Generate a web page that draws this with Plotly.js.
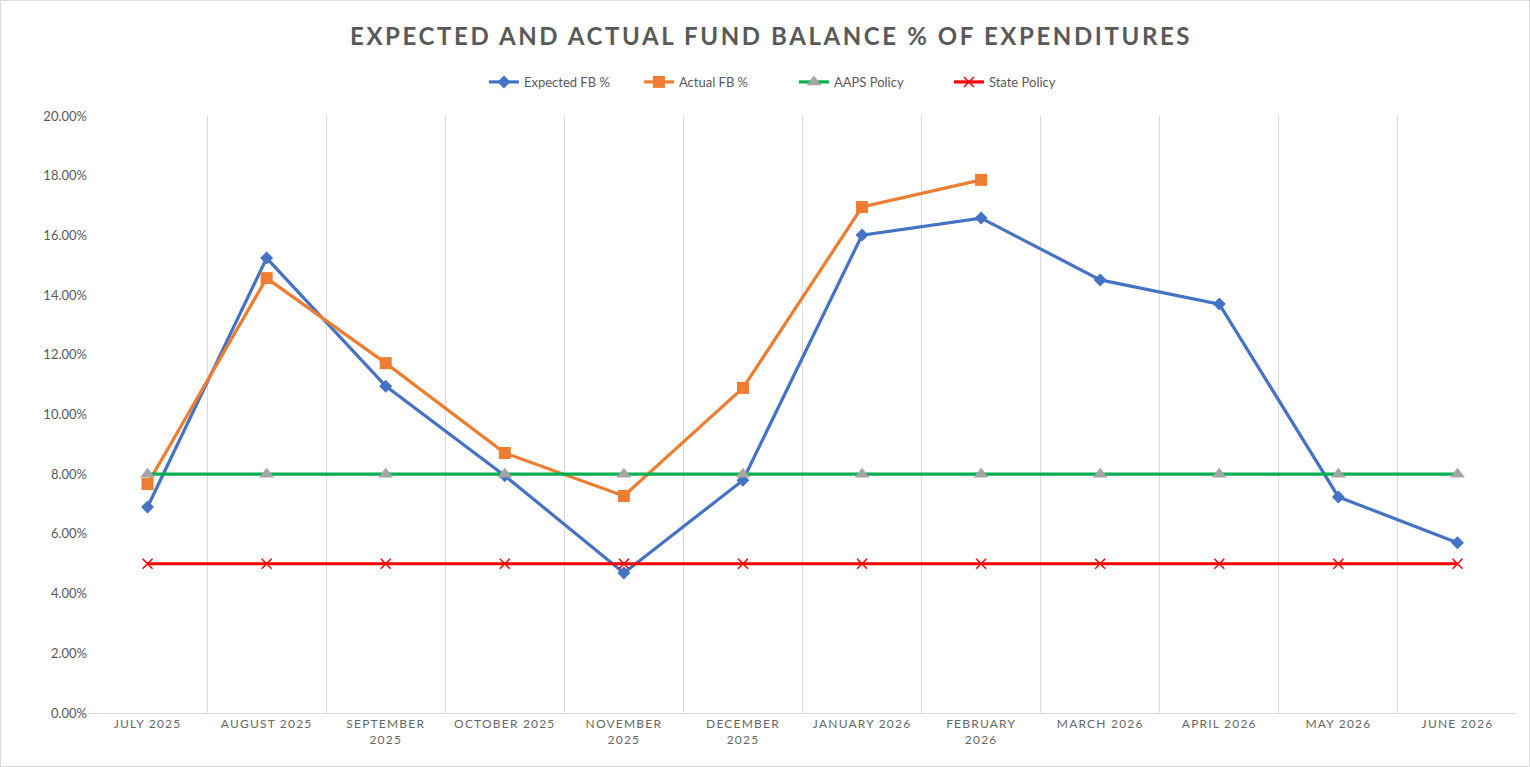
<!DOCTYPE html>
<html>
<head>
<meta charset="utf-8">
<script src="https://cdn.plot.ly/plotly-3.0.1.min.js"></script>
<style>
    body { margin: 0; background: #fff; }
    #chart { width: 1528px; height: 765px; border: 1px solid #d9d9d9; }
    .gtitle { letter-spacing: 2.6px; }
    .xtick text { letter-spacing: 1.2px; }
</style>
</head>
<body>
<div id="chart"></div>
<script>
// months on the x axis
let months = ['JULY 2025', 'AUGUST 2025', 'SEPTEMBER<br>2025', 'OCTOBER 2025', 'NOVEMBER<br>2025',
    'DECEMBER<br>2025', 'JANUARY 2026', 'FEBRUARY<br>2026', 'MARCH 2026', 'APRIL 2026', 'MAY 2026', 'JUNE 2026'];

// fund balance values in percent
let expectedFB = [6.90, 15.24, 10.95, 7.95, 4.69, 7.80, 16.01, 16.58, 14.51, 13.70, 7.24, 5.70];
let actualFB = [7.67, 14.57, 11.72, 8.71, 7.27, 10.89, 16.95, 17.86];
let aapsPolicy = [8, 8, 8, 8, 8, 8, 8, 8, 8, 8, 8, 8];
let statePolicy = [5, 5, 5, 5, 5, 5, 5, 5, 5, 5, 5, 5];

let yTicks = [0, 2, 4, 6, 8, 10, 12, 14, 16, 18, 20];

function buildChart() {
    let graphData = [];

    graphData.push({
        x: months,
        y: expectedFB,
        name: 'Expected FB %',
        type: 'scatter',
        mode: 'lines+markers',
        line: { color: '#4472C4', width: 3.2 },
        marker: { symbol: 'diamond', size: 10, color: '#4472C4' }
    });

    graphData.push({
        x: months.slice(0, actualFB.length),
        y: actualFB,
        name: 'Actual FB %',
        type: 'scatter',
        mode: 'lines+markers',
        line: { color: '#ED7D31', width: 3.2 },
        marker: { symbol: 'square', size: 12, color: '#ED7D31' }
    });

    graphData.push({
        x: months,
        y: aapsPolicy,
        name: 'AAPS Policy',
        type: 'scatter',
        mode: 'lines+markers',
        line: { color: '#00B050', width: 3.2 },
        marker: { symbol: 'triangle-up', size: 13, color: '#A5A5A5' }
    });

    graphData.push({
        x: months,
        y: statePolicy,
        name: 'State Policy',
        type: 'scatter',
        mode: 'lines+markers',
        line: { color: '#FF0000', width: 3.2 },
        marker: { symbol: 'x-thin', size: 10, line: { color: '#FF0000', width: 1.5 } }
    });

    let layout = {
        width: 1528,
        height: 765,
        title: {
            text: 'EXPECTED AND ACTUAL FUND BALANCE % OF EXPENDITURES',
            font: { family: 'Lato, "Open Sans", sans-serif', size: 24, color: '#595959', weight: 'bold' },
            x: 0.478,
            xref: 'paper',
            xanchor: 'center',
            y: 0.953,
            yanchor: 'middle'
        },
        margin: { l: 87, r: 12, t: 115, b: 53 },
        showlegend: true,
        legend: {
            orientation: 'h',
            x: 0.494,
            xanchor: 'center',
            y: 1.057,
            yanchor: 'middle',
            entrywidth: 110,
            font: { family: 'Lato, "Open Sans", sans-serif', size: 13, color: '#595959' }
        },
        xaxis: {
            type: 'category',
            tickson: 'boundaries',
            showgrid: true,
            gridcolor: '#d9d9d9',
            gridwidth: 1,
            showline: true,
            linecolor: '#d9d9d9',
            linewidth: 1,
            ticks: '',
            tickangle: 0,
            automargin: false,
            tickfont: { family: 'Lato, "Open Sans", sans-serif', size: 12, color: '#666666' },
            range: [-0.5, 11.5]
        },
        yaxis: {
            range: [0, 20],
            tickvals: yTicks,
            ticktext: yTicks.map(v => v.toFixed(2) + '%'),
            showgrid: false,
            zeroline: false,
            showline: false,
            ticks: '',
            automargin: false,
            tickfont: { family: 'Lato, "Open Sans", sans-serif', size: 13, color: '#595959' }
        },
        plot_bgcolor: '#fff',
        paper_bgcolor: '#fff'
    };

    let options = {
        displayModeBar: false,
        staticPlot: true
    };

    Plotly.newPlot('chart', graphData, layout, options);
}

buildChart();
</script>
</body>
</html>
